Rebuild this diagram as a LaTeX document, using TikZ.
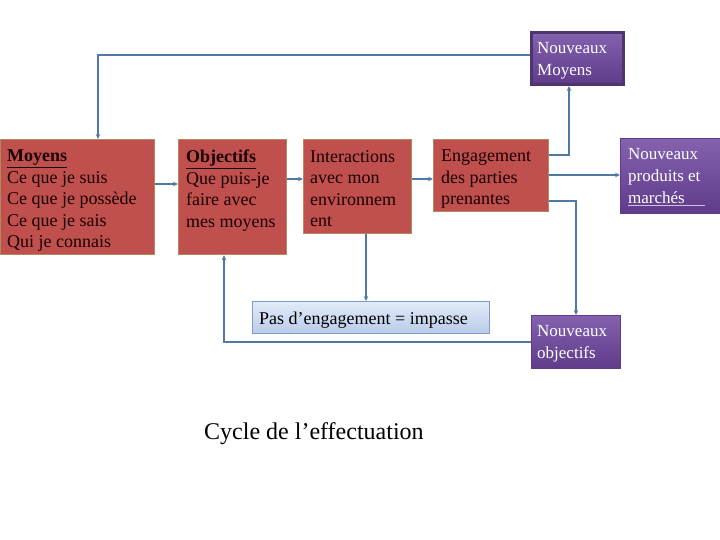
\documentclass[tikz,border=0pt]{standalone}
\usepackage{fontspec}
\setmainfont{Liberation Serif}
\usetikzlibrary{arrows.meta}
\definecolor{boxred}{HTML}{C0504D}
\definecolor{boxtan}{HTML}{B08A5E}
\definecolor{purpA}{HTML}{8462AE}
\definecolor{purpB}{HTML}{5F3B8A}
\definecolor{purpBorder}{HTML}{4E3570}
\definecolor{linkblue}{HTML}{5079A3}
\definecolor{paleA}{HTML}{E2EAF7}
\definecolor{paleB}{HTML}{B9CCEA}
\definecolor{paleBorder}{HTML}{7E9CC6}
\tikzset{
  redbox/.style={draw=boxtan, line width=1.2pt, fill=boxred, inner sep=0, anchor=north west},
  purpbox/.style={draw=purpB, line width=1pt, top color=purpA, bottom color=purpB, inner sep=0, anchor=north west},
  txt/.style={anchor=north west, inner sep=0, align=left, font=\fontsize{18}{21.5}\selectfont, text=black!90!red},
  wtxt/.style={txt, text=white},
  link/.style={draw=linkblue, line width=1.5pt, -{Stealth[length=5pt,width=4.5pt]}},
  plain/.style={draw=linkblue, line width=1.5pt}
}
\begin{document}
\begin{tikzpicture}[x=1pt,y=-1pt]
\useasboundingbox (0,0) rectangle (720,540);
% red boxes
\node[redbox, minimum width=154, minimum height=115] (moy) at (0,139) {};
\node[redbox, minimum width=108, minimum height=115] (obj) at (178,139) {};
\node[redbox, minimum width=108, minimum height=94] (inter) at (303,139) {};
\node[redbox, minimum width=115, minimum height=72] (eng) at (433,139) {};
% purple boxes
\node[purpbox, draw=purpBorder, line width=3pt, minimum width=92, minimum height=52] (nm) at (530,31) {};
\node[purpbox, minimum width=100, minimum height=75] (np) at (620,138) {};
\node[purpbox, minimum width=89, minimum height=53] (no) at (531,315) {};
% blue box
\node[draw=paleBorder, line width=1pt, top color=paleA, bottom color=paleB, inner sep=0, anchor=north west, minimum width=237, minimum height=32] (pas) at (252,301) {};
% texts
\node[txt] (tmoy) at (7,150) {\underline{\textbf{Moyens}}\\Ce que je suis\\Ce que je possède\\Ce que je sais\\Qui je connais};
\node[txt] (tobj) at (186,150) {\underline{\textbf{Objectifs}}\\Que puis-je\\faire avec\\mes moyens};
\node[txt] (tint) at (310,150) {Interactions\\avec mon\\environnem\\ent};
\node[txt] (teng) at (441,150) {Engagement\\des parties\\prenantes};
\node[wtxt, font=\fontsize{17}{22}\selectfont] (tnm) at (537,42) {Nouveaux\\Moyens};
\node[wtxt, font=\fontsize{17}{22}\selectfont] (tnp) at (628,148) {Nouveaux\\produits et\\marchés};
\node[wtxt, font=\fontsize{17}{22}\selectfont] (tno) at (537,325) {Nouveaux\\objectifs};
\node[txt, text=black] (tpas) at (259,312) {Pas d’engagement = impasse};
\node[anchor=north west, inner sep=0, font=\fontsize{24}{28}\selectfont] (cap) at (204,422) {Cycle de l’effectuation};
\draw[draw=purpA!40!white, line width=1pt] (628,206) -- (705,206);
% connectors
\draw[link] (moy.east |- 0,184) -- (obj.west |- 0,184);
\draw[link] (obj.east |- 0,179) -- (inter.west |- 0,179);
\draw[link] (inter.east |- 0,179) -- (eng.west |- 0,179);
\draw[link] (eng.east |- 0,155) -- (569,155) -- (nm.south -| 569,0);
\draw[link] (eng.east |- 0,175) -- (np.west |- 0,175);
\draw[link] (eng.east |- 0,201) -- (576,201) -- (no.north -| 576,0);
\draw[link, line width=1.2pt] (nm.west |- 0,55) -- (98,55) -- (moy.north -| 98,0);
\draw[link] (inter.south -| 366,0) -- (pas.north -| 366,0);
\draw[link] (no.west |- 0,342) -- (224,342) -- (obj.south -| 224,0);
\end{tikzpicture}
\end{document}
